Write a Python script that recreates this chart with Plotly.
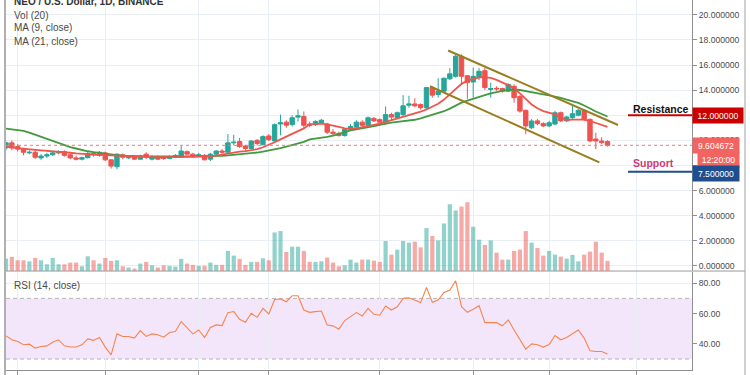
import plotly.graph_objects as go

# ---------------- data ----------------
opens = [9.4, 9.8, 9.5, 9.3, 9.0, 9.05, 8.6, 8.75, 8.85, 9.0,
         9.1, 8.85, 8.6, 8.5, 8.62, 8.95, 8.8, 9.0, 8.45, 7.9,
         8.85, 8.6, 8.7, 8.5, 8.9, 8.5, 8.7, 8.6, 8.55, 8.7,
         8.75, 9.1, 8.9, 8.75, 8.8, 8.5, 8.9, 9.15, 9.05, 9.8,
         9.9, 9.55, 9.35, 10.0, 9.65, 10.35, 9.95, 11.3, 11.45, 11.25,
         11.85, 11.9, 11.3, 11.25, 11.4, 11.3, 10.65, 10.55, 10.38, 10.85,
         11.05, 11.45, 11.2, 11.75, 11.65, 11.45, 12.05, 11.8, 12.05, 12.8,
         12.9, 12.85, 12.6, 14.2, 13.65, 13.92, 14.9, 15.1, 16.7, 15.15,
         14.65, 15.0, 15.55, 14.05, 14.15, 14.13, 13.92, 14.3, 13.5, 12.39,
         11.0, 11.55, 11.33, 11.15, 11.3, 12.2, 11.55, 11.81, 12.0, 12.39,
         11.67, 10.1, 9.95, 9.9]
highs = [9.9, 10.0, 9.7, 9.4, 9.2, 9.2, 8.9, 9.0, 9.15, 9.2,
         9.2, 8.95, 8.8, 8.7, 9.1, 9.1, 9.15, 9.1, 8.5, 8.95,
         8.95, 8.8, 8.8, 8.85, 9.05, 8.8, 8.8, 8.7, 8.8, 8.9,
         9.55, 9.2, 9.0, 9.0, 8.9, 9.0, 9.2, 9.3, 10.5, 10.45,
         10.2, 9.65, 10.0, 10.1, 10.4, 10.5, 11.35, 12.05, 11.6, 12.0,
         12.45, 12.3, 11.5, 11.6, 11.7, 11.4, 10.9, 10.7, 10.95, 11.3,
         11.6, 11.6, 11.9, 11.85, 11.75, 12.7, 12.2, 12.3, 13.6, 13.55,
         13.35, 12.95, 14.25, 14.3, 14.95, 15.0, 15.75, 16.8, 16.85, 15.2,
         15.8, 15.75, 15.8, 14.6, 14.3, 14.2, 14.55, 14.45, 13.6, 12.45,
         11.7, 11.7, 11.45, 11.55, 12.35, 12.3, 11.95, 12.75, 12.5, 12.5,
         11.75, 10.6, 10.25, 10.0]
lows = [9.2, 9.2, 9.1, 8.8, 8.9, 8.5, 8.45, 8.6, 8.75, 8.9,
        8.7, 8.5, 8.4, 8.4, 8.55, 8.7, 8.7, 8.35, 7.75, 7.7,
        8.5, 8.5, 8.45, 8.45, 8.5, 8.4, 8.45, 8.45, 8.5, 8.65,
        8.7, 8.8, 8.6, 8.7, 8.4, 8.35, 8.8, 8.95, 9.0, 9.6,
        9.4, 9.2, 9.3, 9.6, 9.6, 9.95, 9.9, 10.4, 11.0, 11.1,
        11.5, 11.0, 11.05, 11.15, 11.3, 10.5, 10.4, 10.3, 10.3, 10.75,
        11.0, 11.1, 11.15, 11.45, 11.35, 11.4, 11.6, 11.7, 11.95, 12.6,
        12.65, 12.45, 12.5, 13.4, 13.4, 13.8, 14.8, 15.0, 14.4, 13.3,
        13.4, 14.8, 14.0, 13.4, 13.95, 13.8, 13.85, 13.0, 12.2, 10.48,
        10.9, 11.2, 11.05, 11.05, 11.2, 11.45, 11.45, 11.7, 11.9, 11.55,
        9.85, 9.3, 9.69, 9.5]
closes = [9.8, 9.4, 9.3, 9.05, 9.05, 8.65, 8.75, 8.85, 9.0, 9.1,
          8.8, 8.6, 8.5, 8.62, 8.95, 8.85, 9.05, 8.45, 7.95, 8.9,
          8.65, 8.7, 8.5, 8.75, 8.65, 8.7, 8.5, 8.55, 8.7, 8.8,
          9.15, 8.9, 8.7, 8.85, 8.45, 8.9, 9.15, 9.05, 9.8, 9.85,
          9.5, 9.35, 9.95, 9.75, 10.3, 10.05, 11.25, 11.4, 11.2, 11.8,
          11.95, 11.2, 11.2, 11.5, 11.6, 10.65, 10.55, 10.38, 10.88, 11.1,
          11.45, 11.2, 11.8, 11.55, 11.45, 12.05, 11.85, 12.2, 12.75, 12.9,
          12.75, 12.6, 14.2, 13.6, 13.92, 14.95, 15.3, 16.7, 15.1, 14.6,
          15.1, 15.5, 14.2, 14.13, 14.1, 13.92, 14.45, 13.4, 12.33, 11.15,
          11.54, 11.33, 11.15, 11.4, 12.2, 11.55, 11.86, 12.12, 12.39, 11.67,
          9.95, 9.95, 9.82, 9.604672]
volume = [1.25, 1.42, 1.08, 1.08, 0.98, 1.32, 1.08, 0.68, 1.32, 0.68,
          0.68, 0.85, 0.85, 0.48, 1.48, 1.08, 0.75, 1.32, 1.02, 1.08,
          0.48, 0.35, 0.25, 0.75, 0.92, 0.58, 0.35, 0.58, 0.52, 0.45,
          1.22, 0.75, 0.62, 0.52, 0.52, 0.85, 0.62, 0.62, 2.02, 1.55,
          1.22, 0.62, 0.92, 0.92, 1.28, 1.08, 3.88, 4.02, 1.92, 2.45,
          2.45, 2.02, 0.92, 0.92, 0.98, 1.35, 0.85, 0.48, 0.58, 1.15,
          0.85, 1.15, 1.15, 1.05, 0.92, 3.02, 1.65, 2.15, 3.02, 2.85,
          2.95, 2.38, 4.32, 3.52, 3.08, 4.78, 6.72, 6.08, 6.48, 6.92,
          4.45, 3.15, 2.62, 3.08, 1.85, 1.15, 1.15, 2.02, 2.15, 4.02,
          2.85, 2.32, 1.55, 2.02, 1.65, 1.45, 1.25, 1.62, 0.98, 1.65,
          1.95, 2.95, 1.85, 1.02]
ma9 = [9.48, 9.42, 9.36, 9.31, 9.27, 9.24, 9.20, 9.17, 9.15, 9.10,
       9.05, 9.01, 8.96, 8.91, 8.88, 8.86, 8.84, 8.82, 8.77, 8.74,
       8.71, 8.70, 8.68, 8.67, 8.66, 8.66, 8.66, 8.65, 8.65, 8.66,
       8.67, 8.68, 8.68, 8.69, 8.70, 8.72, 8.78, 8.86, 8.96, 9.04,
       9.10, 9.14, 9.20, 9.30, 9.45, 9.62, 9.85, 10.08, 10.30, 10.52,
       10.73, 10.95, 11.28, 11.33, 11.33, 11.28, 11.20, 11.07, 10.96, 10.91,
       10.96, 11.07, 11.15, 11.23, 11.33, 11.46, 11.59, 11.75, 11.91, 12.01,
       12.12, 12.28, 12.46, 12.67, 12.91, 13.25, 13.66, 14.13, 14.50, 14.76,
       14.92, 15.02, 15.02, 14.97, 14.82, 14.58, 14.40, 14.18, 13.71, 13.31,
       12.86, 12.55, 12.33, 12.20, 12.07, 11.81, 11.62, 11.65, 11.67, 11.65,
       11.54, 11.38, 11.23, 11.07]
ma21 = [10.93, 10.88, 10.82, 10.75, 10.62, 10.45, 10.28, 10.10, 9.93, 9.77,
        9.60, 9.46, 9.35, 9.22, 9.13, 9.06, 8.99, 8.94, 8.88, 8.83,
        8.79, 8.76, 8.74, 8.73, 8.72, 8.72, 8.71, 8.71, 8.71, 8.71,
        8.72, 8.72, 8.72, 8.72, 8.72, 8.73, 8.75, 8.77, 8.80, 8.84,
        8.88, 8.92, 8.97, 9.03, 9.10, 9.18, 9.28, 9.38, 9.50, 9.62,
        9.75, 9.88, 10.08, 10.13, 10.20, 10.28, 10.37, 10.53, 10.64, 10.80,
        10.88, 10.95, 11.03, 11.13, 11.24, 11.36, 11.42, 11.47, 11.51, 11.57,
        11.64, 11.75, 11.90, 12.02, 12.15, 12.32, 12.53, 12.76, 13.00, 13.16,
        13.33, 13.48, 13.61, 13.74, 13.86, 13.94, 14.00, 14.05, 14.01, 13.94,
        13.86, 13.76, 13.67, 13.58, 13.50, 13.39, 13.25, 13.12, 12.98, 12.78,
        12.52, 12.30, 12.10, 11.90]
rsi = [45.3, 42.7, 41.6, 39.4, 39.8, 37.2, 38.3, 38.7, 41.1, 42.7,
       38.7, 37.9, 37.9, 39.4, 43.3, 42.3, 44.2, 37.9, 32.8, 46.6,
       44.9, 44.9, 43.8, 48.8, 44.9, 46.6, 46.0, 44.4, 47.5, 48.1,
       54.7, 50.8, 46.6, 49.2, 44.2, 50.8, 52.5, 52.1, 60.6, 61.3,
       56.2, 54.3, 60.2, 57.5, 63.4, 59.7, 69.3, 69.6, 67.8, 71.7,
       71.7, 62.3, 60.8, 61.3, 61.7, 52.5, 51.9, 49.7, 55.4, 58.0,
       60.6, 58.4, 63.4, 59.5, 58.9, 65.0, 62.3, 64.5, 70.0, 70.4,
       68.9, 67.2, 77.2, 67.4, 68.9, 73.9, 75.5, 81.6, 64.5, 60.8,
       62.8, 65.2, 54.0, 54.0, 54.0, 51.9, 55.8, 49.2, 42.7, 36.6,
       40.0, 39.4, 37.9, 39.6, 45.5, 42.7, 44.2, 46.6, 49.2, 43.8,
       35.5, 35.0, 35.0, 33.3]

# channel drawing (bar index, price)
channel_upper_x = [75.7, 104.8]
channel_upper_y = [17.16, 11.22]
channel_lower_x = [72.6, 101.6]
channel_lower_y = [14.31, 8.24]

resistance_level = 12.0
support_level = 7.5
last_price = 9.604672
countdown = "12:20:00"

price_ticks = [0, 2, 4, 6, 8, 10, 12, 14, 16, 18, 20]
rsi_ticks = [40, 60, 80]
rsi_upper, rsi_lower = 70, 30
x_grid = [2, 17, 33, 45, 64, 80, 93, 108]

# ---------------- styling ----------------
UP = "#26a69a"
DOWN = "#ef5350"
GRID = "#e9eef4"
AXIS = "#8f8f8f"
FONT = "Liberation Sans"

W, H = 750, 375
ML, MR, MT, MB = 6, 58, 0, 3
PW = W - ML - MR
PH = H - MT - MB


def xp(px):
    return (px - ML) / PW


def yp(py):
    return (PH - (py - MT)) / PH


idx = list(range(len(closes)))
up_flags = [c >= o for o, c in zip(opens, closes)]
vol_colors = ["rgba(38,166,154,0.5)" if u else "rgba(239,83,80,0.5)" for u in up_flags]

fig = go.Figure()

fig.add_trace(go.Bar(x=idx, y=volume, marker=dict(color=vol_colors, line=dict(width=0)),
                     width=0.72, xaxis="x", yaxis="y", hoverinfo="skip"))

fig.add_trace(go.Candlestick(
    x=idx, open=opens, high=highs, low=lows, close=closes,
    increasing=dict(line=dict(color=UP, width=1), fillcolor=UP),
    decreasing=dict(line=dict(color=DOWN, width=1), fillcolor=DOWN),
    whiskerwidth=0, xaxis="x", yaxis="y3"))

fig.add_trace(go.Scatter(x=idx, y=ma21, mode="lines", line=dict(color="#43993f", width=1.8),
                         xaxis="x", yaxis="y3"))
fig.add_trace(go.Scatter(x=idx, y=ma9, mode="lines", line=dict(color="#f0554d", width=1.8),
                         xaxis="x", yaxis="y3"))

for cx, cy in ((channel_upper_x, channel_upper_y), (channel_lower_x, channel_lower_y)):
    fig.add_trace(go.Scatter(x=cx, y=cy, mode="lines", line=dict(color="#9a7d1e", width=2),
                             xaxis="x", yaxis="y3"))

fig.add_trace(go.Scatter(x=idx, y=rsi, mode="lines", line=dict(color="#f8844c", width=1.1),
                         xaxis="x2", yaxis="y2"))

xr = [0, PW / 5.84]
price_dom = [yp(272.5), 1]
rsi_dom = [0, yp(273)]
price_lo = (267.3 - 272.5) / 12.62
price_hi = 267.3 / 12.62
rsi_lo = 70 - (372 - 300) / 1.525
rsi_hi = 70 + (300 - 273) / 1.525

tickfont = dict(family=FONT, size=8.6, color="#4a4a4a")

fig.update_layout(
    width=W, height=H,
    margin=dict(l=ML, r=MR, t=MT, b=MB),
    paper_bgcolor="white", plot_bgcolor="white",
    showlegend=False, boxgap=0.25, boxgroupgap=0,
    xaxis=dict(domain=[0, 1], anchor="y", range=xr, tickvals=x_grid, showticklabels=False,
               showgrid=True, gridcolor=GRID, zeroline=False, ticks="",
               rangeslider=dict(visible=False), showline=False),
    xaxis2=dict(domain=[0, 1], anchor="y2", matches="x", range=xr, tickvals=x_grid,
                showticklabels=False, showgrid=True, gridcolor=GRID, zeroline=False,
                showline=True, linecolor=AXIS, ticks="outside", ticklen=5, tickcolor=AXIS),
    yaxis=dict(domain=price_dom, anchor="x", range=[0, 27.25], visible=False, showgrid=False),
    yaxis3=dict(overlaying="y", anchor="x", side="right", range=[price_lo, price_hi],
                tickvals=price_ticks,
                ticktext=["" if v == 8 else f"{v:.6f}" for v in price_ticks],
                showgrid=True, gridcolor=GRID, zeroline=False,
                showline=True, linecolor=AXIS, ticks="outside", ticklen=4, tickcolor=AXIS,
                tickfont=tickfont),
    yaxis2=dict(domain=rsi_dom, anchor="x2", side="right", range=[rsi_lo, rsi_hi],
                tickvals=rsi_ticks, ticktext=[f"{v:.2f}" for v in rsi_ticks],
                showgrid=True, gridcolor=GRID, zeroline=False,
                showline=True, linecolor=AXIS, ticks="outside", ticklen=4, tickcolor=AXIS,
                tickfont=tickfont),
)

shapes = [
    # RSI band
    dict(type="rect", xref="x2 domain", yref="y2", x0=0, x1=1, y0=rsi_lower, y1=rsi_upper,
         fillcolor="#f3e6fb", line=dict(width=0), layer="below"),
    dict(type="line", xref="x2 domain", yref="y2", x0=0, x1=1, y0=rsi_upper, y1=rsi_upper,
         line=dict(color="#b4b4b4", width=1, dash="4px,3px"), layer="below"),
    dict(type="line", xref="x2 domain", yref="y2", x0=0, x1=1, y0=rsi_lower, y1=rsi_lower,
         line=dict(color="#b4b4b4", width=1, dash="4px,3px"), layer="below"),
    # last price dotted line
    dict(type="line", xref="x domain", yref="y3", x0=0, x1=1, y0=last_price, y1=last_price,
         line=dict(color="#f07a78", width=1, dash="dot")),
    # resistance / support
    dict(type="line", xref="paper", yref="y3", x0=xp(628), x1=xp(692),
         y0=resistance_level, y1=resistance_level, line=dict(color="#cc0000", width=2)),
    dict(type="line", xref="paper", yref="y3", x0=xp(628), x1=xp(692),
         y0=support_level, y1=support_level, line=dict(color="#1f4e8f", width=2)),
    # frame lines
    dict(type="line", xref="paper", yref="paper", x0=xp(5), x1=xp(745), y0=yp(272.5), y1=yp(272.5),
         line=dict(color="#9a9a9a", width=1)),
    dict(type="line", xref="paper", yref="paper", x0=xp(5), x1=xp(5), y0=-0.02, y1=1.01,
         line=dict(color="#b0b0b0", width=2)),
    dict(type="line", xref="paper", yref="paper", x0=xp(745), x1=xp(745), y0=-0.02, y1=1.01,
         line=dict(color="#a0a0a0", width=1)),
]
fig.update_layout(shapes=shapes)

legend_font = dict(family=FONT, size=10, color="#4a4a4a")
ann = [
    dict(text="<b>NEO / U.S. Dollar, 1D, BINANCE</b>", x=xp(12), y=yp(1.5),
         font=dict(family=FONT, size=10, color="#333333")),
    dict(text="Vol (20)", x=xp(11.5), y=yp(15.5), font=legend_font),
    dict(text="MA (9, close)", x=xp(11.5), y=yp(28), font=legend_font),
    dict(text="MA (21, close)", x=xp(11.5), y=yp(41.5), font=legend_font),
    dict(text="RSI (14, close)", x=xp(11.5), y=yp(287), font=legend_font),
    dict(text="<b>Resistance</b>", x=xp(631), y=yp(109.5),
         font=dict(family=FONT, size=10.5, color="#111111")),
    dict(text="<b>Support</b>", x=xp(631), y=yp(163.5),
         font=dict(family=FONT, size=10.5, color="#cc3a78")),
]
for a in ann:
    a.update(xref="paper", yref="paper", xanchor="left", yanchor="middle", showarrow=False)
    fig.add_annotation(**a)

box_font = dict(family=FONT, size=8.6, color="white")
boxes = [
    dict(text=f"{resistance_level:.6f}", y=resistance_level, bgcolor="#cc0000", width=46, xshift=0, yshift=0),
    dict(text=f"{last_price:.6f}", y=last_price, bgcolor="#f26461", width=42, xshift=0, yshift=0),
    dict(text=countdown, y=last_price, bgcolor="#f26461", width=37, xshift=5, yshift=-14.5),
    dict(text=f"{support_level:.6f}", y=support_level, bgcolor="#1f4e8f", width=42, xshift=0, yshift=-2),
]
for b in boxes:
    fig.add_annotation(text=b["text"], x=1, xref="paper", y=b["y"], yref="y3",
                       xanchor="left", yanchor="middle", showarrow=False,
                       bgcolor=b["bgcolor"], width=b["width"], height=11, borderpad=2,
                       align="center", xshift=b["xshift"], yshift=b["yshift"], font=box_font)

fig.write_html("out.html", config={"displayModeBar": False},
               post_script="document.body.style.margin='0';document.body.style.padding='0';")
